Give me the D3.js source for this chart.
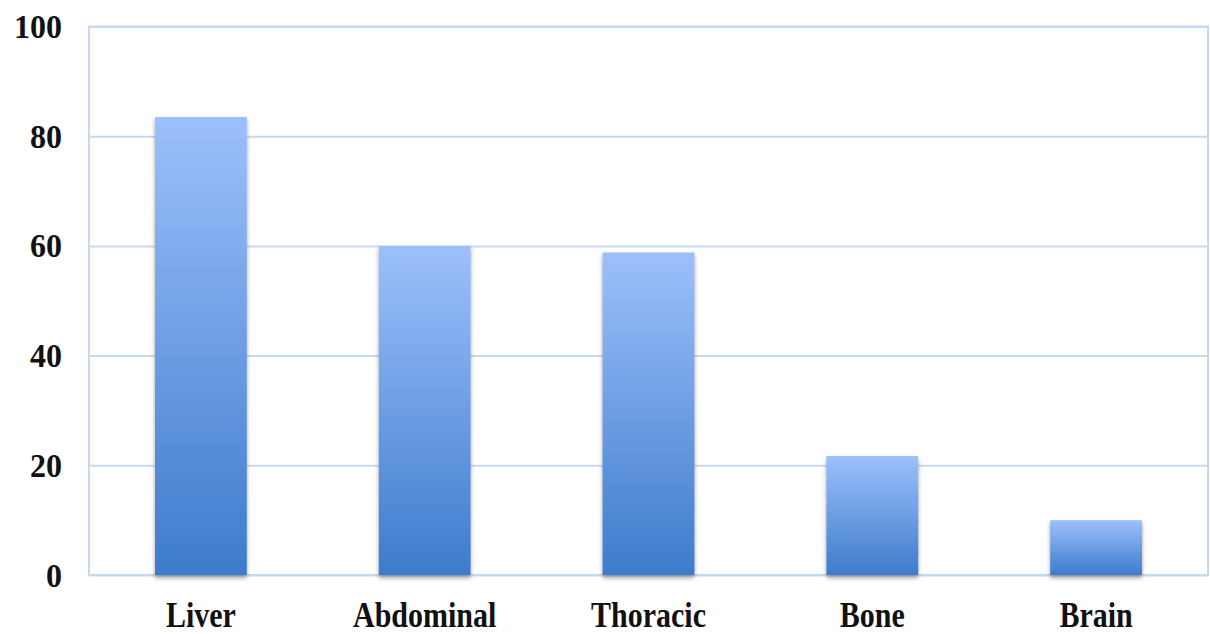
<!DOCTYPE html>
<html>
<head>
<meta charset="utf-8">
<script src="https://cdn.jsdelivr.net/npm/d3@7/dist/d3.min.js"></script>
<style>
  html, body { margin: 0; padding: 0; background: #ffffff; }
  svg { display: block; }
  .lbl { font-family: "Liberation Serif", "Times New Roman", serif; font-weight: bold; fill: #111; }
</style>
</head>
<body>
<svg id="chart" width="1210" height="634"></svg>
<script>
// Metastasis sites and their values (%)
const categories = ["Liver", "Abdominal", "Thoracic", "Bone", "Brain"];
const values = [83.5, 60, 58.8, 21.7, 10];
const yTicks = [0, 20, 40, 60, 80, 100];

const W = 1210, H = 634;
const margin = { left: 89, right: 2, top: 26.5, bottom: 59 };
const innerW = W - margin.left - margin.right;
const innerH = H - margin.top - margin.bottom;

const svg = d3.select("#chart");
const defs = svg.append("defs");

const grad = defs.append("linearGradient")
  .attr("id", "barFill").attr("x1", 0).attr("y1", 0).attr("x2", 0).attr("y2", 1);
grad.append("stop").attr("offset", "0%").attr("stop-color", "#9cc0fb");
grad.append("stop").attr("offset", "100%").attr("stop-color", "#3e7bcc");

const shadow = defs.append("filter").attr("id", "barShadow")
  .attr("x", "-20%").attr("y", "-10%").attr("width", "140%").attr("height", "130%");
shadow.append("feDropShadow")
  .attr("dx", 0).attr("dy", 3).attr("stdDeviation", 2)
  .attr("flood-color", "#555").attr("flood-opacity", 0.55);

const g = svg.append("g").attr("transform", `translate(${margin.left},${margin.top})`);

const x = d3.scaleBand().domain(categories).range([0, innerW])
  .paddingInner(0.59).paddingOuter(0.295);
const y = d3.scaleLinear().domain([0, 100]).range([innerH, 0]);

// Gridlines and y tick labels
const yAxis = g.append("g")
  .call(d3.axisLeft(y).tickValues(yTicks).tickSize(-innerW).tickPadding(0).tickFormat(d3.format("d")));
yAxis.select(".domain").remove();
yAxis.selectAll(".tick line").attr("stroke", "#c6d9f1").attr("stroke-width", 2);
yAxis.selectAll(".tick text")
  .attr("class", "lbl")
  .attr("x", null).attr("dy", null)
  .attr("text-anchor", "end")
  .style("font-size", "32px")
  .attr("transform", `translate(-27,11) scale(1,1.08)`);

// Plot frame
g.append("rect")
  .attr("x", 0).attr("y", 0).attr("width", innerW).attr("height", innerH)
  .attr("fill", "none").attr("stroke", "#c6d9f1").attr("stroke-width", 2);

// Bars
g.selectAll("rect.bar")
  .data(categories)
  .join("rect")
  .attr("class", "bar")
  .attr("x", d => x(d))
  .attr("y", (d, i) => y(values[i]))
  .attr("width", x.bandwidth())
  .attr("height", (d, i) => y(0) - y(values[i]))
  .attr("fill", "url(#barFill)")
  .attr("filter", "url(#barShadow)");

// Category labels
const xAxis = g.append("g")
  .attr("transform", `translate(0,${innerH})`)
  .call(d3.axisBottom(x).tickSize(0).tickPadding(0));
xAxis.select(".domain").remove();
xAxis.selectAll(".tick text")
  .attr("class", "lbl")
  .attr("y", null).attr("dy", null)
  .attr("text-anchor", "middle")
  .style("font-size", "30px")
  .attr("transform", `translate(0,52) scale(1,1.2)`);
</script>
</body>
</html>
